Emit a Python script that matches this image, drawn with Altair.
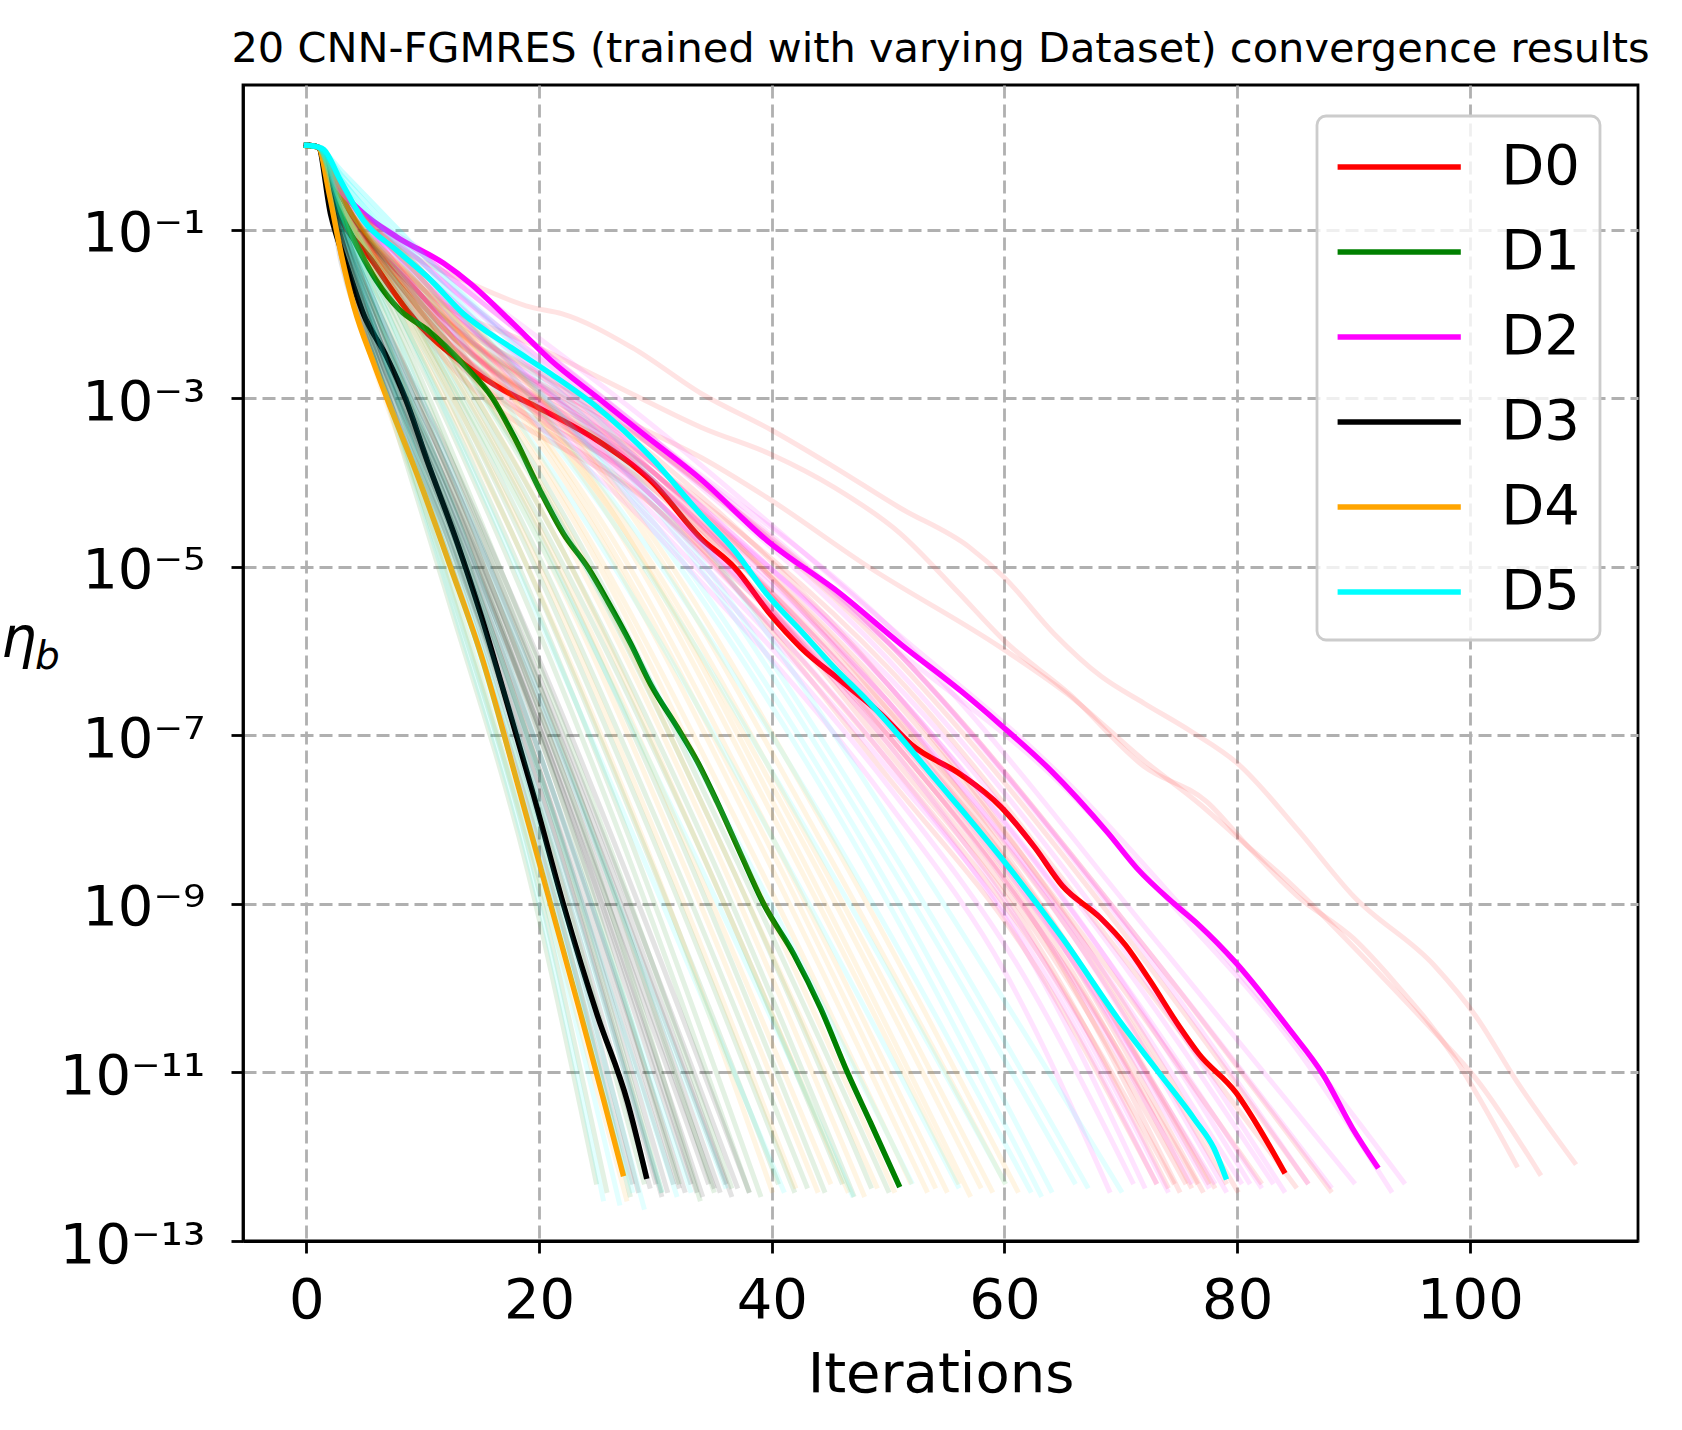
import altair as alt
import pandas as pd

TITLE = "20 CNN-FGMRES (trained with varying Dataset) convergence results"
X_LABEL = "Iterations"
Y_LABEL_MAIN = "η"
Y_LABEL_SUB = "b"
DATASETS = ["D0", "D1", "D2", "D3", "D4", "D5"]
COLORS = ["#ff0000", "#008000", "#ff00ff", "#000000", "#ffa500", "#00ffff"]
X_TICKS = [0, 20, 40, 60, 80, 100]
Y_TICK_VALUES = [1e-1, 1e-3, 1e-5, 1e-7, 1e-9, 1e-11, 1e-13]
Y_TICK_LABELS = ["10⁻¹", "10⁻³", "10⁻⁵", "10⁻⁷", "10⁻⁹", "10⁻¹¹", "10⁻¹³"]

# every series: (iteration, log10 of eta_b)
D0_BOLD = [(0, 0.0), (1, -0.02), (2, -0.53), (5.8, -1.4), (9.5, -2.1), (13.5, -2.59), (17, -2.91),
           (19.9, -3.11), (25, -3.5), (27.9, -3.78), (29.6, -3.98), (33.9, -4.66), (36.8, -5.01),
           (39.9, -5.57), (42.5, -5.96), (46, -6.36), (49.4, -6.75), (52, -7.11), (56.3, -7.47),
           (59.7, -7.85), (62.6, -8.33), (65, -8.79), (68.2, -9.16), (70.4, -9.49), (72.5, -9.91),
           (75, -10.45), (76.7, -10.78), (79.9, -11.24), (81.7, -11.62), (84, -12.17)]
D1_BOLD = [(0, 0.0), (1, -0.02), (2, -0.5), (4, -1.1), (6, -1.6), (8, -1.95), (10.5, -2.2), (13.5, -2.6),
           (16, -3.0), (18, -3.5), (20.1, -4.1), (22.1, -4.61), (24.2, -5.01), (25.9, -5.41), (27.9, -5.92),
           (29.6, -6.4), (31.9, -6.91), (33.6, -7.31), (35.3, -7.79), (37.3, -8.4), (39.3, -9.0),
           (41.9, -9.6), (44.2, -10.24), (46.5, -11.0), (48.5, -11.6), (50.9, -12.33)]
D2_BOLD = [(0, 0.0), (1, -0.02), (2.5, -0.45), (4.6, -0.77), (7.8, -1.09), (11.8, -1.4), (14.1, -1.64),
           (17.8, -2.12), (21, -2.55), (25, -2.99), (29, -3.43), (33.8, -3.95), (39.6, -4.69), (46, -5.33),
           (51.1, -5.92), (56.3, -6.48), (59.7, -6.88), (64, -7.42), (68.9, -8.16), (71.4, -8.58),
           (74.6, -9.0), (76.7, -9.25), (79.9, -9.7), (84.5, -10.49), (87.4, -11.03), (89.9, -11.66),
           (92, -12.11)]
D3_BOLD = [(0, 0.0), (1, -0.02), (2.07, -0.81), (3.5, -1.44), (4.9, -2.0), (6.9, -2.51), (8.5, -3.0),
           (10.4, -3.75), (13, -4.73), (15, -5.57), (17, -6.5), (19.5, -7.7), (22.1, -9.01), (25, -10.32),
           (27.6, -11.35), (29.2, -12.23)]
D4_BOLD = [(0, 0.0), (1, -0.02), (2, -0.6), (3, -1.3), (4.1, -1.92), (5.8, -2.59), (7.2, -3.1), (9.5, -3.9),
           (12.4, -5.01), (15, -6.04), (18, -7.5), (21, -9.01), (23.6, -10.32), (25.6, -11.35), (27.2, -12.2)]
D5_BOLD = [(0, 0.0), (1, -0.02), (1.5, -0.05), (2.9, -0.41), (4.9, -0.89), (7.8, -1.25), (10.7, -1.6),
           (13.5, -2.0), (17.6, -2.4), (21, -2.71), (25, -3.11), (29.6, -3.7), (33.9, -4.38), (36.8, -4.81),
           (39.6, -5.33), (42.5, -5.76), (45.4, -6.2), (48.3, -6.6), (51.1, -7.03), (54, -7.51),
           (56.9, -7.98), (59.7, -8.45), (65, -9.41), (70, -10.41), (73.2, -10.99), (76.4, -11.57),
           (78, -11.9), (79, -12.24)]

D0_FAINT = [
    [(0, 0.0), (1, -0.02), (3, -0.55), (6, -1.0), (9, -1.3), (13.5, -1.6), (19.3, -1.92), (22, -2.0), (28, -2.4),
     (34, -2.95), (40, -3.38), (45.4, -3.82), (51, -4.3), (57, -4.77), (60, -5.13), (64.3, -5.8), (68.3, -6.3),
     (72, -6.62), (76, -6.95), (80, -7.33), (85.2, -8.12), (90, -8.91), (97, -9.74), (100.5, -10.33),
     (104, -11.1), (109, -12.07)],
    [(0, 0.0), (1, -0.02), (3, -0.6), (10, -1.7), (20, -2.4), (28, -2.95), (34, -3.35), (40, -3.67),
     (45.4, -4.06), (51, -4.6), (56, -5.3), (60, -5.88), (65.5, -6.5), (72, -7.37), (77.4, -7.79), (81, -8.33),
     (85.2, -8.91), (90, -9.41), (93.4, -9.91), (98.7, -10.83), (104, -12.1)],
    [(0, 0.0), (1, -0.02), (3, -0.6), (10, -1.8), (20, -2.7), (28, -3.3), (34, -3.71), (39.6, -4.18),
     (48.3, -5.0), (59.7, -5.96), (65.5, -6.52), (72, -7.3), (76.9, -7.83), (79.6, -8.16), (84.5, -8.75),
     (91.6, -9.74), (97, -10.53), (100.5, -11.07), (106, -12.2)],
    [(0, 0.0), (1, -0.02), (3, -0.6), (10, -2.0), (30, -4.2), (50, -7.5), (62, -9.6), (73, -12.3)],
    [(0, 0.0), (1, -0.02), (3, -0.6), (10, -1.9), (30, -4.0), (50, -7.2), (62, -9.3), (74, -12.35)],
    [(0, 0.0), (1, -0.02), (3, -0.6), (10, -2.1), (30, -4.3), (50, -7.3), (63, -9.6), (74.5, -12.3)],
    [(0, 0.0), (1, -0.02), (3, -0.6), (10, -1.8), (30, -3.9), (50, -7.0), (63, -9.3), (75, -12.4)],
    [(0, 0.0), (1, -0.02), (3, -0.6), (10, -2.0), (30, -4.1), (50, -7.1), (64, -9.6), (75.5, -12.3)],
    [(0, 0.0), (1, -0.02), (3, -0.6), (10, -1.9), (30, -4.0), (50, -6.9), (64, -9.4), (76, -12.35)],
    [(0, 0.0), (1, -0.02), (3, -0.6), (10, -2.2), (30, -4.3), (50, -7.0), (65, -9.7), (76.5, -12.3)],
    [(0, 0.0), (1, -0.02), (3, -0.6), (10, -1.8), (30, -3.8), (50, -6.7), (65, -9.5), (77, -12.4)],
    [(0, 0.0), (1, -0.02), (3, -0.6), (10, -2.0), (30, -4.0), (50, -6.8), (65, -9.4), (77.5, -12.3)],
    [(0, 0.0), (1, -0.02), (3, -0.6), (10, -1.9), (30, -3.9), (50, -6.6), (66, -9.6), (78, -12.35)],
    [(0, 0.0), (1, -0.02), (3, -0.6), (10, -2.1), (30, -4.1), (50, -6.7), (66, -9.4), (79, -12.3)],
    [(0, 0.0), (1, -0.02), (3, -0.6), (10, -1.8), (30, -3.7), (50, -6.4), (67, -9.5), (80, -12.4)],
    [(0, 0.0), (1, -0.02), (3, -0.6), (10, -2.0), (30, -3.9), (50, -6.5), (68, -9.6), (82, -12.3)],
    [(0, 0.0), (1, -0.02), (3, -0.6), (10, -1.9), (30, -3.8), (50, -6.2), (70, -9.6), (85, -12.35)],
    [(0, 0.0), (1, -0.02), (3, -0.6), (10, -1.7), (30, -3.6), (50, -6.0), (70, -9.3), (86, -12.3)],
    [(0, 0.0), (1, -0.02), (3, -0.6), (10, -1.8), (30, -3.6), (50, -5.9), (72, -9.5), (88, -12.4)],
]
D1_FAINT = [
    [(0, 0.0), (1, -0.02), (3, -1.2), (6, -2.6), (12, -5.3), (19, -8.6), (24.9, -12.3)],
    [(0, 0.0), (1, -0.02), (3, -1.1), (6, -2.5), (12, -5.1), (19, -8.3), (25.8, -12.4)],
    [(0, 0.0), (1, -0.02), (3, -1.0), (6, -2.3), (12, -4.7), (20, -8.2), (27.8, -12.45)],
    [(0, 0.0), (1, -0.02), (3, -1.0), (6, -2.2), (13, -4.9), (21, -8.3), (29, -12.3)],
    [(0, 0.0), (1, -0.02), (3, -0.9), (6, -2.0), (13, -4.6), (22, -8.3), (30.5, -12.4)],
    [(0, 0.0), (1, -0.02), (3, -0.9), (6, -2.0), (14, -4.7), (23, -8.2), (32, -12.3)],
    [(0, 0.0), (1, -0.02), (3, -0.8), (7, -2.1), (15, -4.9), (24, -8.2), (33.8, -12.5)],
    [(0, 0.0), (1, -0.02), (3, -0.9), (7, -2.0), (15, -4.6), (25, -8.3), (35, -12.4)],
    [(0, 0.0), (1, -0.02), (3, -0.8), (7, -1.9), (16, -4.8), (26, -8.3), (36.5, -12.35)],
    [(0, 0.0), (1, -0.02), (3, -0.8), (8, -2.1), (17, -4.8), (27, -8.2), (38, -12.4)],
    [(0, 0.0), (1, -0.02), (3, -0.7), (8, -2.0), (17, -4.6), (28, -8.3), (39, -12.45)],
    [(0, 0.0), (1, -0.02), (3, -0.8), (8, -1.9), (18, -4.7), (29, -8.3), (40.5, -12.3)],
    [(0, 0.0), (1, -0.02), (3, -0.7), (8, -1.8), (18, -4.5), (30, -8.3), (41.9, -12.4)],
    [(0, 0.0), (1, -0.02), (3, -0.7), (9, -2.0), (19, -4.6), (31, -8.3), (43, -12.35)],
    [(0, 0.0), (1, -0.02), (3, -0.6), (9, -1.9), (20, -4.6), (32, -8.2), (44.5, -12.4)],
    [(0, 0.0), (1, -0.02), (3, -0.6), (9, -1.8), (21, -4.7), (33, -8.1), (46, -12.3)],
    [(0, 0.0), (1, -0.02), (3, -0.7), (10, -2.0), (22, -4.8), (34, -8.2), (47, -12.45)],
    [(0, 0.0), (1, -0.02), (3, -0.6), (10, -1.9), (22, -4.5), (35, -8.1), (48.5, -12.35)],
    [(0, 0.0), (1, -0.02), (3, -0.6), (10, -1.8), (23, -4.6), (36, -8.2), (50, -12.4)],
]
D2_FAINT = [
    [(0, 0.0), (1, -0.02), (3, -0.5), (10, -1.9), (30, -4.6), (50, -7.8), (60, -9.8), (69, -12.4)],
    [(0, 0.0), (1, -0.02), (3, -0.5), (10, -1.8), (30, -4.5), (50, -7.6), (61, -9.7), (71, -12.3)],
    [(0, 0.0), (1, -0.02), (3, -0.5), (10, -1.7), (30, -4.3), (50, -7.3), (62, -9.6), (72, -12.35)],
    [(0, 0.0), (1, -0.02), (3, -0.5), (10, -1.8), (30, -4.4), (50, -7.4), (62, -9.5), (73, -12.3)],
    [(0, 0.0), (1, -0.02), (3, -0.5), (10, -1.6), (30, -4.2), (50, -7.1), (63, -9.6), (74, -12.4)],
    [(0, 0.0), (1, -0.02), (3, -0.5), (10, -1.7), (30, -4.2), (50, -7.0), (64, -9.5), (76, -12.3)],
    [(0, 0.0), (1, -0.02), (3, -0.5), (10, -1.6), (30, -4.0), (50, -6.8), (65, -9.5), (77.5, -12.35)],
    [(0, 0.0), (1, -0.02), (3, -0.5), (10, -1.8), (30, -4.2), (50, -6.9), (66, -9.7), (78, -12.3)],
    [(0, 0.0), (1, -0.02), (3, -0.5), (10, -1.5), (30, -3.9), (50, -6.6), (66, -9.4), (79, -12.4)],
    [(0, 0.0), (1, -0.02), (3, -0.5), (10, -1.6), (30, -4.0), (50, -6.6), (67, -9.5), (80.3, -12.3)],
    [(0, 0.0), (1, -0.02), (3, -0.5), (10, -1.4), (30, -3.8), (50, -6.4), (67, -9.3), (81, -12.3)],
    [(0, 0.0), (1, -0.02), (3, -0.5), (10, -1.5), (30, -3.8), (50, -6.4), (68, -9.5), (82, -12.35)],
    [(0, 0.0), (1, -0.02), (3, -0.5), (10, -1.6), (30, -3.9), (50, -6.3), (68, -9.3), (83, -12.3)],
    [(0, 0.0), (1, -0.02), (3, -0.5), (10, -1.4), (30, -3.6), (50, -6.1), (69, -9.3), (84, -12.4)],
    [(0, 0.0), (1, -0.02), (3, -0.5), (10, -1.3), (30, -3.5), (50, -5.9), (70, -9.2), (86, -12.3)],
    [(0, 0.0), (1, -0.02), (3, -0.5), (10, -1.4), (30, -3.6), (50, -5.9), (72, -9.5), (88, -12.35)],
    [(0, 0.0), (1, -0.02), (3, -0.5), (10, -1.3), (30, -3.5), (50, -5.7), (74, -9.6), (90, -12.3)],
    [(0, 0.0), (1, -0.02), (3, -0.5), (10, -1.3), (30, -3.5), (50, -5.9), (65, -7.6), (75, -9.1), (85, -10.7),
     (93.2, -12.4)],
    [(0, 0.0), (1, -0.02), (3, -0.5), (10, -1.25), (30, -3.35), (50, -5.7), (65, -7.5), (75, -9.0), (86, -10.8),
     (94.3, -12.3)],
]
D3_FAINT = [
    [(0, 0.0), (1, -0.02), (3, -1.4), (6, -2.6), (12, -4.8), (20, -8.3), (28, -12.3)],
    [(0, 0.0), (1, -0.02), (3, -1.2), (6, -2.5), (12, -4.6), (20, -8.0), (28.5, -12.4)],
    [(0, 0.0), (1, -0.02), (3, -1.3), (6, -2.5), (12, -4.5), (20, -7.8), (29.5, -12.35)],
    [(0, 0.0), (1, -0.02), (3, -1.2), (6, -2.4), (12, -4.4), (20, -7.6), (30, -12.3)],
    [(0, 0.0), (1, -0.02), (3, -1.3), (6, -2.6), (12, -4.6), (20, -7.6), (30.5, -12.45)],
    [(0, 0.0), (1, -0.02), (3, -1.1), (6, -2.3), (12, -4.3), (20, -7.4), (31, -12.4)],
    [(0, 0.0), (1, -0.02), (3, -1.2), (6, -2.4), (12, -4.4), (20, -7.4), (31.5, -12.3)],
    [(0, 0.0), (1, -0.02), (3, -1.1), (6, -2.3), (12, -4.2), (20, -7.2), (32, -12.35)],
    [(0, 0.0), (1, -0.02), (3, -1.2), (6, -2.4), (12, -4.3), (20, -7.2), (32.5, -12.4)],
    [(0, 0.0), (1, -0.02), (3, -1.0), (6, -2.2), (12, -4.1), (20, -7.0), (33, -12.3)],
    [(0, 0.0), (1, -0.02), (3, -1.1), (6, -2.2), (12, -4.1), (20, -6.9), (33.5, -12.4)],
    [(0, 0.0), (1, -0.02), (3, -1.1), (6, -2.3), (12, -4.2), (20, -6.9), (34, -12.45)],
    [(0, 0.0), (1, -0.02), (3, -1.0), (6, -2.1), (12, -4.0), (20, -6.8), (34.5, -12.3)],
    [(0, 0.0), (1, -0.02), (3, -1.0), (6, -2.1), (12, -3.9), (20, -6.7), (35, -12.35)],
    [(0, 0.0), (1, -0.02), (3, -1.1), (6, -2.2), (12, -4.0), (20, -6.6), (35.5, -12.4)],
    [(0, 0.0), (1, -0.02), (3, -0.9), (6, -2.0), (12, -3.8), (20, -6.5), (36, -12.3)],
    [(0, 0.0), (1, -0.02), (3, -1.0), (6, -2.0), (12, -3.8), (20, -6.4), (36.5, -12.45)],
    [(0, 0.0), (1, -0.02), (3, -0.9), (6, -1.9), (12, -3.7), (20, -6.3), (37, -12.35)],
    [(0, 0.0), (1, -0.02), (3, -0.9), (6, -1.9), (12, -3.6), (20, -6.1), (38, -12.4)],
]
D4_FAINT = [
    [(0, 0.0), (1, -0.02), (3, -1.3), (6, -2.7), (12, -5.0), (20, -8.7), (27.5, -12.5)],
    [(0, 0.0), (1, -0.02), (3, -0.8), (8, -2.0), (18, -4.7), (30, -8.6), (40, -12.4)],
    [(0, 0.0), (1, -0.02), (3, -0.8), (8, -1.9), (19, -4.7), (31, -8.5), (42, -12.35)],
    [(0, 0.0), (1, -0.02), (3, -0.7), (8, -1.8), (20, -4.7), (32, -8.4), (43.9, -12.4)],
    [(0, 0.0), (1, -0.02), (3, -0.7), (9, -1.9), (21, -4.8), (33, -8.4), (45, -12.3)],
    [(0, 0.0), (1, -0.02), (3, -0.7), (9, -1.8), (22, -4.8), (34, -8.4), (46.5, -12.4)],
    [(0, 0.0), (1, -0.02), (3, -0.6), (9, -1.7), (22, -4.6), (35, -8.3), (47.9, -12.45)],
    [(0, 0.0), (1, -0.02), (3, -0.7), (10, -1.9), (23, -4.7), (36, -8.4), (49, -12.35)],
    [(0, 0.0), (1, -0.02), (3, -0.6), (10, -1.8), (24, -4.7), (37, -8.3), (50.5, -12.4)],
    [(0, 0.0), (1, -0.02), (3, -0.6), (10, -1.7), (24, -4.6), (38, -8.3), (51.9, -12.3)],
    [(0, 0.0), (1, -0.02), (3, -0.6), (10, -1.7), (25, -4.6), (39, -8.3), (53.3, -12.4)],
    [(0, 0.0), (1, -0.02), (3, -0.5), (10, -1.6), (25, -4.5), (39, -8.1), (54, -12.35)],
    [(0, 0.0), (1, -0.02), (3, -0.6), (10, -1.7), (26, -4.6), (40, -8.2), (55, -12.4)],
    [(0, 0.0), (1, -0.02), (3, -0.5), (10, -1.6), (26, -4.4), (41, -8.2), (56, -12.3)],
    [(0, 0.0), (1, -0.02), (3, -0.5), (10, -1.5), (27, -4.5), (42, -8.3), (57, -12.45)],
    [(0, 0.0), (1, -0.02), (3, -0.6), (10, -1.7), (27, -4.5), (42, -8.1), (57.9, -12.35)],
    [(0, 0.0), (1, -0.02), (3, -0.5), (10, -1.6), (28, -4.6), (43, -8.2), (58.9, -12.4)],
    [(0, 0.0), (1, -0.02), (3, -0.5), (10, -1.5), (28, -4.4), (44, -8.2), (60, -12.3)],
    [(0, 0.0), (1, -0.02), (3, -0.5), (10, -1.5), (29, -4.5), (45, -8.2), (61.1, -12.4)],
]
D5_FAINT = [
    [(0, 0.0), (1, -0.02), (3, -1.0), (6, -2.5), (12, -5.2), (20, -9.0), (25.5, -12.5)],
    [(0, 0.0), (1, -0.02), (3, -0.9), (6, -2.3), (12, -5.0), (20, -8.7), (26.9, -12.55)],
    [(0, 0.0), (1, -0.02), (3, -0.8), (6, -2.2), (12, -4.8), (20, -8.4), (28, -12.4)],
    [(0, 0.0), (1, -0.02), (3, -0.9), (6, -2.2), (13, -5.0), (21, -8.6), (29, -12.6)],
    [(0, 0.0), (1, -0.02), (3, -0.8), (6, -2.0), (13, -4.8), (22, -8.6), (30.5, -12.4)],
    [(0, 0.0), (1, -0.02), (3, -0.7), (6, -1.9), (14, -5.0), (23, -8.7), (31.8, -12.45)],
    [(0, 0.0), (1, -0.02), (3, -0.8), (7, -2.2), (15, -5.2), (24, -8.8), (33, -12.4)],
    [(0, 0.0), (1, -0.02), (3, -0.7), (7, -2.0), (16, -5.1), (26, -8.7), (36, -12.35)],
    [(0, 0.0), (1, -0.02), (3, -0.6), (8, -2.0), (18, -5.0), (30, -8.8), (41, -12.4)],
    [(0, 0.0), (1, -0.02), (3, -0.5), (8, -1.7), (20, -4.7), (34, -8.6), (46.9, -12.45)],
    [(0, 0.0), (1, -0.02), (3, -0.5), (10, -1.9), (24, -5.0), (38, -8.5), (52, -12.3)],
    [(0, 0.0), (1, -0.02), (3, -0.45), (10, -1.7), (26, -4.9), (42, -8.7), (56, -12.35)],
    [(0, 0.0), (1, -0.02), (3, -0.4), (10, -1.6), (28, -4.8), (45, -8.6), (60, -12.3)],
    [(0, 0.0), (1, -0.02), (3, -0.4), (10, -1.5), (30, -4.9), (47, -8.6), (62.2, -12.4)],
    [(0, 0.0), (1, -0.02), (3, -0.35), (10, -1.4), (30, -4.6), (48, -8.5), (63.1, -12.45)],
    [(0, 0.0), (1, -0.02), (3, -0.4), (10, -1.5), (30, -4.5), (48, -8.3), (64, -12.4)],
    [(0, 0.0), (1, -0.02), (3, -0.35), (10, -1.4), (30, -4.3), (50, -8.5), (66, -12.3)],
    [(0, 0.0), (1, -0.02), (3, -0.3), (10, -1.3), (30, -4.2), (50, -8.3), (67.1, -12.35)],
    [(0, 0.0), (1, -0.02), (3, -0.3), (10, -1.3), (30, -4.0), (52, -8.4), (70, -12.4)],
]

BOLD = [D0_BOLD, D1_BOLD, D2_BOLD, D3_BOLD, D4_BOLD, D5_BOLD]
FAINT = [D0_FAINT, D1_FAINT, D2_FAINT, D3_FAINT, D4_FAINT, D5_FAINT]


def frame(ds, series_list, tag):
    rows = []
    for k, series in enumerate(series_list):
        for x, e in series:
            rows.append({"dataset": ds, "run": f"{ds}-{tag}{k}", "x": x, "eta": 10.0 ** e})
    return pd.DataFrame(rows)


FONT = "DejaVu Sans"
AX_W = 2.8
X_ENC = alt.X(
    "x:Q",
    scale=alt.Scale(domain=[-5.45, 114.45], nice=False, zero=False),
    axis=alt.Axis(
        values=X_TICKS, format="d", grid=True, gridDash=[13, 6], gridColor="#b0b0b0", gridWidth=AX_W,
        tickSize=12, tickWidth=AX_W, tickColor="black", domainColor="black", domainWidth=AX_W,
        labelFont=FONT, labelFontSize=56, labelColor="black", labelBaseline="alphabetic",
        labelPadding=64, labelFlush=False, labelOverlap=False,
        title=X_LABEL, titleFont=FONT, titleFontSize=56, titleFontWeight="normal", titleColor="black",
        titleBaseline="alphabetic", titleY=150,
    ),
)
label_expr = " : ".join(
    f"datum.value < {v * 3.0:.3e} ? '{lab}'" for v, lab in zip(reversed(Y_TICK_VALUES), reversed(Y_TICK_LABELS))
) + " : ''"
Y_ENC = alt.Y(
    "eta:Q",
    scale=alt.Scale(type="log", domain=[1e-13, 5.2], nice=False),
    axis=alt.Axis(
        values=Y_TICK_VALUES, labelExpr=label_expr, grid=True, gridDash=[13, 6], gridColor="#b0b0b0",
        gridWidth=AX_W, tickSize=12, tickWidth=AX_W, tickColor="black", domainColor="black", domainWidth=AX_W,
        labelFont=FONT, labelFontSize=56, labelColor="black", labelPadding=26, labelOffset=4,
        labelFlush=False, labelOverlap=False, title=None,
    ),
)

COLOR_SCALE = alt.Scale(domain=DATASETS, range=COLORS)
LEGEND = alt.Legend(
    title=None, orient="none", legendX=1074, legendY=31, symbolType="M-2.2,0H2.2", symbolSize=3136,
    symbolStrokeWidth=5.4, symbolOffset=31.2, labelOffset=71, labelFont=FONT, labelFontSize=56,
    labelColor="black", rowPadding=26, padding=20, fillColor="rgba(255,255,255,0.8)", strokeColor="#cccccc",
    cornerRadius=9,
)

layers = []
for i, ds in enumerate(DATASETS):
    bdf = frame(ds, [BOLD[i]], "bold")
    fdf = frame(ds, FAINT[i], "run")
    layers.append(
        alt.Chart(bdf).mark_line(strokeWidth=5.5, interpolate="monotone", strokeCap="square").encode(
            x=X_ENC, y=Y_ENC, color=alt.Color("dataset:N", scale=COLOR_SCALE, legend=LEGEND), detail="run:N"
        )
    )
    layers.append(
        alt.Chart(fdf).mark_line(strokeWidth=5.0, interpolate="monotone", strokeCap="square",
                                 color=COLORS[i], opacity=0.11).encode(x=X_ENC, y=Y_ENC, detail="run:N")
    )

title_text = alt.Chart(pd.DataFrame({"t": [TITLE]})).mark_text(
    font=FONT, fontSize=41.5, color="black", align="center", baseline="alphabetic"
).encode(text="t:N", x=alt.value(697.5), y=alt.value(-23))
eta_text = alt.Chart(pd.DataFrame({"t": [Y_LABEL_MAIN]})).mark_text(
    font=FONT, fontSize=56, fontStyle="italic", color="black", align="left", baseline="alphabetic"
).encode(text="t:N", x=alt.value(-242), y=alt.value(572))
sub_text = alt.Chart(pd.DataFrame({"t": [Y_LABEL_SUB]})).mark_text(
    font=FONT, fontSize=39, fontStyle="italic", color="black", align="left", baseline="alphabetic"
).encode(text="t:N", x=alt.value(-208), y=alt.value(584))

chart = alt.layer(*layers, title_text, eta_text, sub_text).properties(
    width=1395, height=1156,
    autosize=alt.AutoSizeParams(type="none"),
    padding={"left": 243, "top": 85, "right": 44, "bottom": 189},
    background="white",
).configure_view(stroke="black", strokeWidth=AX_W).configure_legend(strokeWidth=2.8)

chart.save("out.html", embed_options={"renderer": "svg", "actions": False})
